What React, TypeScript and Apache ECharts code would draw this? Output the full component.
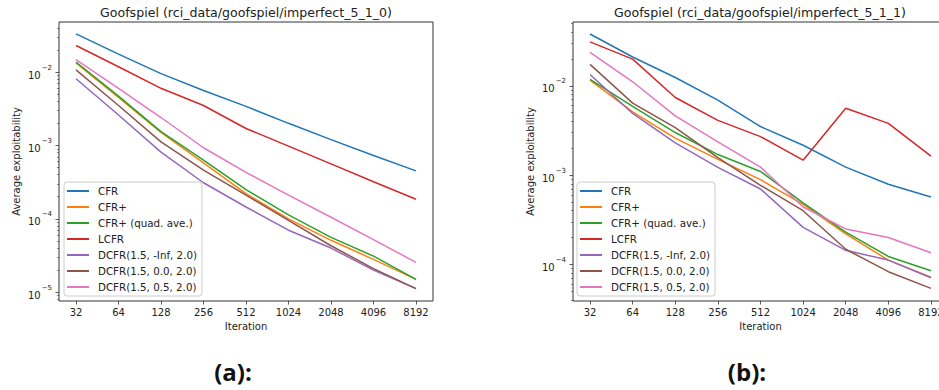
import React, { useEffect, useRef } from 'react';
import * as echarts from 'echarts';

const ITERATIONS = [32, 64, 128, 256, 512, 1024, 2048, 4096, 8192];
const ALGORITHMS = [
  'CFR',
  'CFR+',
  'CFR+ (quad. ave.)',
  'LCFR',
  'DCFR(1.5, -Inf, 2.0)',
  'DCFR(1.5, 0.0, 2.0)',
  'DCFR(1.5, 0.5, 2.0)',
];
const COLORS = ['#1f77b4', '#ff7f0e', '#2ca02c', '#d62728', '#9467bd', '#8c564b', '#e377c2'];

// Goofspiel imperfect_5_1_0
const A_CFR = [0.033, 0.0175, 0.0095, 0.0056, 0.0034, 0.002, 0.0012, 0.00073, 0.00045];
const A_CFRP = [0.0133, 0.0045, 0.0015, 0.00058, 0.00022, 0.0001, 0.000051, 0.000028, 0.000015];
const A_CFRP_QUAD = [0.0137, 0.0047, 0.00154, 0.00063, 0.00025, 0.000113, 0.000056, 0.000031, 0.000015];
const A_LCFR = [0.023, 0.0118, 0.006, 0.0035, 0.0017, 0.00098, 0.00056, 0.00032, 0.000185];
const A_DCFR_NEGINF = [0.0081, 0.0026, 0.00081, 0.00031, 0.000145, 0.00007, 0.00004, 0.00002, 0.0000112];
const A_DCFR_00 = [0.0107, 0.0035, 0.00112, 0.00046, 0.00021, 0.000095, 0.000043, 0.000021, 0.0000112];
const A_DCFR_05 = [0.0148, 0.006, 0.0024, 0.00093, 0.00043, 0.00021, 0.000105, 0.000052, 0.0000255];

// Goofspiel imperfect_5_1_1
const B_CFR = [0.038, 0.021, 0.0124, 0.0069, 0.0035, 0.00216, 0.00123, 0.00079, 0.00057];
const B_CFRP = [0.0116, 0.0051, 0.0026, 0.0015, 0.00089, 0.00047, 0.00022, 0.000112, 0.000072];
const B_CFRP_QUAD = [0.0118, 0.0059, 0.003, 0.0017, 0.0011, 0.00049, 0.00023, 0.000123, 0.000085];
const B_LCFR = [0.031, 0.0199, 0.0074, 0.0041, 0.0027, 0.00147, 0.0056, 0.0038, 0.00163];
const B_DCFR_NEGINF = [0.0134, 0.0049, 0.0023, 0.00122, 0.0007, 0.00026, 0.000144, 0.000112, 0.000071];
const B_DCFR_00 = [0.0174, 0.0064, 0.0034, 0.00157, 0.00077, 0.0004, 0.000148, 0.000083, 0.000054];
const B_DCFR_05 = [0.0237, 0.0111, 0.0046, 0.00236, 0.00123, 0.00044, 0.00025, 0.0002, 0.000135];

const A_SERIES = [A_CFR, A_CFRP, A_CFRP_QUAD, A_LCFR, A_DCFR_NEGINF, A_DCFR_00, A_DCFR_05];
const B_SERIES = [B_CFR, B_CFRP, B_CFRP_QUAD, B_LCFR, B_DCFR_NEGINF, B_DCFR_00, B_DCFR_05];

const TITLES = [
  'Goofspiel (rci_data/goofspiel/imperfect_5_1_0)',
  'Goofspiel (rci_data/goofspiel/imperfect_5_1_1)',
];
const CAPTIONS = ['(a):', '(b):'];
const Y_MAJOR = [1e-5, 1e-4, 1e-3, 1e-2];
const Y_RANGES: [number, number][] = [
  [7.6e-6, 0.048],
  [3.9e-5, 0.0518],
];

const FONT = 'DejaVu Sans';
const INK = '#222';
const FRAME = '#333';

function minorTicks(lo: number, hi: number): number[] {
  const out: number[] = [];
  for (let e = -7; e <= 0; e++) {
    for (let m = 2; m <= 9; m++) {
      const v = m * Math.pow(10, e);
      if (v >= lo && v <= hi) out.push(v);
    }
  }
  return out;
}

function powerLabel(v: number): string {
  const e = Math.round(Math.log10(v));
  const s = String(e).replace('-', '\u2212');
  return `{b|10}{e|${s}}`;
}

// the second panel runs past the visible page edge, so the canvas is wider than the page
const CANVAS_W = 960;
const PAGE_W = 939;
const PAGE_H = 390;

const GRIDS = [
  { left: 59, top: 22, width: 374, height: 279 },
  { left: 573, top: 22, width: 375, height: 279 },
];

export default function App() {
  const ref = useRef<HTMLDivElement>(null);

  useEffect(() => {
    document.body.style.margin = '0';
    const chart = echarts.init(ref.current!, null, { renderer: 'svg' });

    const xMin = 32 / Math.pow(2, 0.4);
    const xMax = 8192 * Math.pow(2, 0.4);

    const xAxes = GRIDS.map((_, gi) => ({
      type: 'log',
      logBase: 2,
      gridIndex: gi,
      min: xMin,
      max: xMax,
      name: 'Iteration',
      nameLocation: 'middle',
      nameGap: 20,
      nameTextStyle: { fontFamily: FONT, fontSize: 10, color: INK },
      axisLine: { show: false },
      splitLine: { show: false },
      axisTick: {
        show: true,
        length: 3.5,
        customValues: ITERATIONS,
        lineStyle: { color: FRAME, width: 0.8 },
      },
      axisLabel: {
        customValues: ITERATIONS,
        margin: 6,
        fontFamily: FONT,
        fontSize: 10,
        color: INK,
        formatter: (v: number) => String(Math.round(v)),
      },
    }));

    const yAxes: any[] = [];
    GRIDS.forEach((_, gi) => {
      const [lo, hi] = Y_RANGES[gi];
      yAxes.push({
        type: 'log',
        logBase: 10,
        gridIndex: gi,
        min: lo,
        max: hi,
        name: 'Average exploitability',
        nameLocation: 'middle',
        nameGap: 38,
        nameTextStyle: { fontFamily: FONT, fontSize: 10, color: INK },
        axisLine: { show: false },
        splitLine: { show: false },
        axisTick: {
          show: true,
          length: 3.5,
          customValues: Y_MAJOR,
          lineStyle: { color: FRAME, width: 0.8 },
        },
        axisLabel: {
          customValues: Y_MAJOR,
          margin: 7,
          formatter: powerLabel,
          rich: {
            b: { fontFamily: FONT, fontSize: 10, color: INK, lineHeight: 16, verticalAlign: 'bottom' },
            e: { fontFamily: FONT, fontSize: 7, color: INK, lineHeight: 16, verticalAlign: 'top', padding: [0, 0, 0, 1] },
          },
        },
      });
      // minor ticks between the decades
      yAxes.push({
        type: 'log',
        logBase: 10,
        gridIndex: gi,
        min: lo,
        max: hi,
        position: 'left',
        axisLine: { show: false },
        splitLine: { show: false },
        axisLabel: { show: false },
        axisTick: {
          show: true,
          length: 2,
          customValues: minorTicks(lo, hi),
          lineStyle: { color: FRAME, width: 0.6 },
        },
      });
    });

    const series: any[] = [];
    [A_SERIES, B_SERIES].forEach((group, gi) => {
      group.forEach((vals, si) => {
        series.push({
          type: 'line',
          name: ALGORITHMS[si],
          xAxisIndex: gi,
          yAxisIndex: gi * 2,
          data: ITERATIONS.map((it, k) => [it, vals[k]]),
          symbol: 'none',
          color: COLORS[si],
          lineStyle: { width: 1.5, color: COLORS[si] },
        });
      });
    });

    const legendLefts = [64, 577];
    const legends = legendLefts.map((left) => ({
      orient: 'vertical',
      left,
      top: 182,
      data: ALGORITHMS,
      icon: 'rect',
      itemWidth: 22,
      itemHeight: 2,
      itemGap: 4,
      padding: [3, 5, 3, 3],
      backgroundColor: 'rgba(255,255,255,0.8)',
      borderColor: '#ccc',
      borderWidth: 1,
      borderRadius: 3,
      selectedMode: false,
      textStyle: {
        fontFamily: FONT,
        fontSize: 10.3,
        color: INK,
        lineHeight: 12,
        padding: [0, 0, 0, 4],
      },
    }));

    const graphic: any[] = [];
    GRIDS.forEach((g, gi) => {
      graphic.push({
        type: 'text',
        x: gi === 0 ? g.left + g.width / 2 : 760,
        y: 12,
        style: {
          text: TITLES[gi],
          fontFamily: FONT,
          fontSize: 12.6,
          fill: INK,
          align: 'center',
          verticalAlign: 'middle',
        },
      });
      graphic.push({
        type: 'text',
        x: gi === 0 ? 233 : 747,
        y: 371,
        style: {
          text: CAPTIONS[gi],
          fontFamily: 'Open Sans',
          fontWeight: 'bold',
          fontSize: 24,
          fill: '#111',
          align: 'center',
          verticalAlign: 'middle',
        },
      });
    });

    chart.setOption({
      animation: false,
      backgroundColor: '#fff',
      grid: GRIDS.map((g) => ({
        ...g,
        show: true,
        borderColor: FRAME,
        borderWidth: 1,
        backgroundColor: 'transparent',
      })),
      xAxis: xAxes,
      yAxis: yAxes,
      legend: legends,
      series,
      graphic,
    });

    return () => chart.dispose();
  }, []);

  return (
    <div
      style={{
        position: 'absolute',
        left: 0,
        top: 0,
        width: PAGE_W,
        height: PAGE_H,
        overflow: 'hidden',
        background: '#fff',
      }}
    >
      <div ref={ref} style={{ width: CANVAS_W, height: PAGE_H }} />
    </div>
  );
}
